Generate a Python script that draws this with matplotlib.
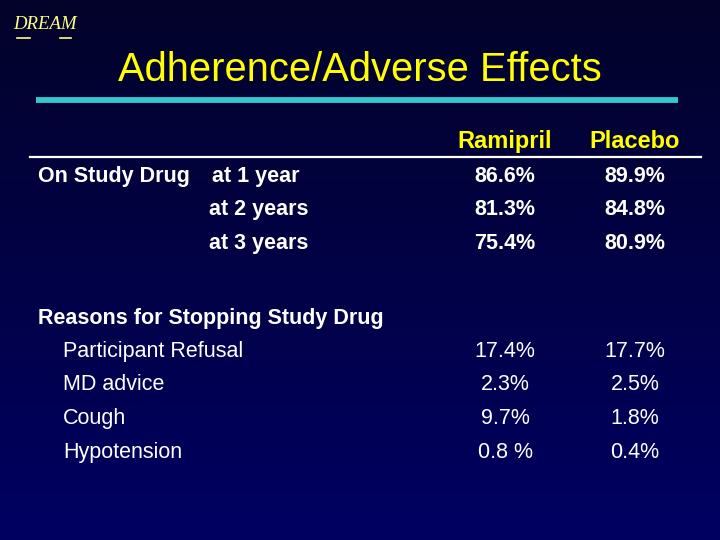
import matplotlib
matplotlib.use("Agg")
import matplotlib.pyplot as plt
import numpy as np
from matplotlib.colors import LinearSegmentedColormap

title = "Adherence/Adverse Effects"
columns = ["Ramipril", "Placebo"]
study_rows = ["at 1 year", "at 2 years", "at 3 years"]
study_ramipril = [86.6, 81.3, 75.4]
study_placebo = [89.9, 84.8, 80.9]
reason_rows = ["Participant Refusal", "MD advice", "Cough", "Hypotension"]
reason_ramipril = [17.4, 2.3, 9.7, 0.8]
reason_placebo = [17.7, 2.5, 1.8, 0.4]

plt.rcParams['font.family'] = ['Liberation Sans', 'DejaVu Sans']

fig = plt.figure(figsize=(7.2, 5.4), dpi=100)
ax = fig.add_axes([0, 0, 1, 1])
ax.set_xlim(0, 720)
ax.set_ylim(540, 0)
ax.axis('off')

cmap = LinearSegmentedColormap.from_list('bg', ['#03032a', '#000062'])
grad = np.linspace(0, 1, 256).reshape(-1, 1)
ax.imshow(grad, cmap=cmap, extent=[0, 720, 540, 0], aspect='auto', zorder=0)

YEL = '#ffff00'
WHT = '#ffffff'
BL = 'baseline'

# logo
ax.text(13, 29, "DREAM", color='#ffff88', fontsize=13.5, family='Liberation Serif',
        style='italic', va=BL, ha='left')
ax.plot([17, 30], [38, 38], color='#ffff88', lw=1.2)
ax.plot([60, 71], [38, 38], color='#ffff88', lw=1.2)

ax.text(360, 81, title, color=YEL, fontsize=28.7, ha='center', va=BL)
ax.plot([36, 678], [99.5, 99.5], color='#33c8cc', lw=4.2, solid_capstyle='butt')

col_x = [505, 635]
for x, c in zip(col_x, columns):
    ax.text(x, 148, c, color=YEL, fontsize=17, fontweight='bold', ha='center', va=BL)
ax.plot([30, 701], [157, 157], color=WHT, lw=1.6)

fsb = 15.5
fs = 15.5
ax.text(38, 182, "On Study Drug", color=WHT, fontsize=fsb, fontweight='bold', va=BL)
study_y = [182, 215, 249]
study_x = [212, 209, 209]
for lab, x, y, r, p in zip(study_rows, study_x, study_y, study_ramipril, study_placebo):
    ax.text(x, y, lab, color=WHT, fontsize=fsb, fontweight='bold', va=BL)
    ax.text(col_x[0], y, f"{r}%", color=WHT, fontsize=fsb, fontweight='bold', va=BL, ha='center')
    ax.text(col_x[1], y, f"{p}%", color=WHT, fontsize=fsb, fontweight='bold', va=BL, ha='center')

ax.text(38, 324, "Reasons for Stopping Study Drug", color=WHT, fontsize=fsb,
        fontweight='bold', va=BL)
reason_y = [357, 390, 424, 458]
for lab, y, r, p in zip(reason_rows, reason_y, reason_ramipril, reason_placebo):
    ax.text(63, y, lab, color=WHT, fontsize=fs, va=BL)
    rs = f"{r} %" if lab == "Hypotension" else f"{r}%"
    ax.text(col_x[0], y, rs, color=WHT, fontsize=fs, va=BL, ha='center')
    ax.text(col_x[1], y, f"{p}%", color=WHT, fontsize=fs, va=BL, ha='center')

fig.savefig("out.png", dpi=100)
